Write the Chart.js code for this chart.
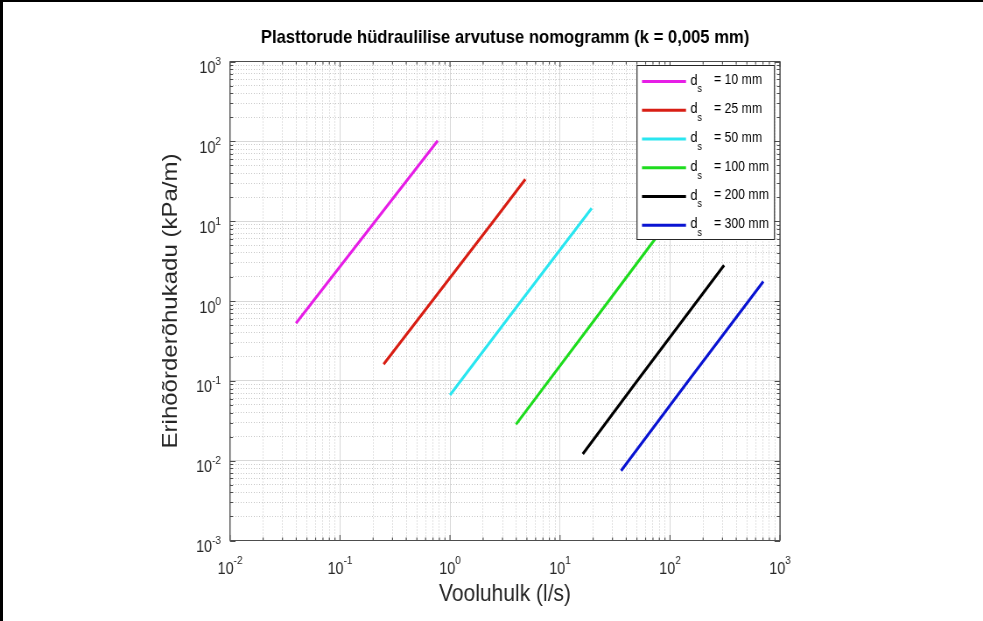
<!DOCTYPE html>
<html><head><meta charset="utf-8">
<script src="https://cdn.jsdelivr.net/npm/chart.js@4.4.1/dist/chart.umd.min.js"></script>
<style>
html,body{margin:0;padding:0;background:#fff;overflow:hidden;}
#clip{position:relative;width:983px;height:621px;overflow:hidden;background:#fff;}
#stage{position:absolute;left:0;top:0;width:1123px;height:621px;transform:scaleX(0.875334);transform-origin:0 0;}
#stage canvas{display:block;}
#frame{position:absolute;left:0;top:0;width:983px;height:621px;box-sizing:border-box;border-top:2px solid #000;border-left:3px solid #000;pointer-events:none;}
</style></head><body>
<div id="clip"><div id="stage"><canvas id="c" width="1123" height="621" style="width:1123px;height:621px"></canvas></div><div id="frame"></div></div>
<script>
// ---- data (flow in l/s, head loss in kPa/m) ----
const diameters = ['10 mm', '25 mm', '50 mm', '100 mm', '200 mm', '300 mm'];
const flowD10  = [0.0398, 0.209, 0.773];
const lossD10  = [0.525, 10, 102];
const flowD25  = [0.249, 2.48, 4.84];
const lossD25  = [0.161, 10, 33.4];
const flowD50  = [1.0, 4.43, 19.4];
const lossD50  = [0.0664, 1, 14.5];
const flowD100 = [3.98, 27.7, 78.5];
const lossD100 = [0.0285, 1, 6.8];
const flowD200 = [16.1, 50.4, 310];
const lossD200 = [0.0121, 0.1, 2.80];
const flowD300 = [35.9, 147, 705];
const lossD300 = [0.00748, 0.1, 1.75];

const xTickValues = [0.01, 0.1, 1, 10, 100, 1000];
const xTickExps   = ['-2', '-1', '0', '1', '2', '3'];
const yTickValues = [0.001, 0.01, 0.1, 1, 10, 100, 1000];
const yTickExps   = ['-3', '-2', '-1', '0', '1', '2', '3'];

const chartTitle = 'Plasttorude hüdraulilise arvutuse nomogramm (k = 0,005 mm)';
const xAxisTitle = 'Vooluhulk (l/s)';
const yAxisTitle = 'Erihõõrderõhukadu (kPa/m)';
const legendPrefixMain = 'd';
const legendPrefixSub = 's';

const lineColors = ['#e61ee6', '#d81e14', '#2ae6f0', '#1edc1e', '#000000', '#0a14d2'];

const flows = [flowD10, flowD25, flowD50, flowD100, flowD200, flowD300];
const losses = [lossD10, lossD25, lossD50, lossD100, lossD200, lossD300];

// ---- layout helpers ----
const FONT = '"Liberation Sans", Arial, Helvetica, sans-serif';
const SX = 983 / 1123;
const toC = v => v / SX;
const isMajor = v => Math.abs(Math.log10(v) - Math.round(Math.log10(v))) < 1e-6;
function decadeTicks(lo, hi) {
  const out = [];
  for (let e = lo; e < hi; e++) for (let m = 1; m < 10; m++) out.push(+(m * Math.pow(10, e)).toPrecision(6));
  out.push(Math.pow(10, hi));
  return out;
}
const gridColor = c => (c.tick && isMajor(c.tick.value)) ? '#d8d8d8' : '#c6c6c6';
const gridDash = c => (c.tick && isMajor(c.tick.value)) ? [] : [1, 2];

const datasets = diameters.map((d, i) => ({
  label: legendPrefixMain + legendPrefixSub + ' = ' + d,
  data: flows[i].map((q, j) => ({ x: q, y: losses[i][j] })),
  borderColor: lineColors[i],
  backgroundColor: lineColors[i],
  borderWidth: 3,
  pointRadius: 0,
  showLine: true,
  tension: 0,
  fill: false
}));

const TICK_BIG = 16.5, TICK_SMALL = 11.5;

const matlabLook = {
  id: 'matlabLook',
  afterDatasetsDraw(chart) {
    const { ctx, chartArea: a, scales: { x, y } } = chart;
    ctx.save();
    // inner tick marks
    ctx.strokeStyle = '#4d4d4d';
    ctx.lineWidth = 1 / SX;
    ctx.beginPath();
    x.ticks.forEach(t => {
      const px = x.getPixelForValue(t.value);
      const len = isMajor(t.value) ? 5.5 : 3;
      ctx.moveTo(px, a.bottom); ctx.lineTo(px, a.bottom - len);
      ctx.moveTo(px, a.top); ctx.lineTo(px, a.top + len);
    });
    ctx.stroke();
    ctx.lineWidth = 1;
    ctx.beginPath();
    y.ticks.forEach(t => {
      const py = Math.round(y.getPixelForValue(t.value)) + 0.5;
      const len = (isMajor(t.value) ? 5.5 : 3) / SX;
      ctx.moveTo(a.left, py); ctx.lineTo(a.left + len, py);
      ctx.moveTo(a.right, py); ctx.lineTo(a.right - len, py);
    });
    ctx.stroke();
    // frame
    ctx.lineWidth = 1.2;
    ctx.beginPath();
    ctx.moveTo(a.left, a.top); ctx.lineTo(a.right, a.top);
    ctx.moveTo(a.left, a.bottom); ctx.lineTo(a.right, a.bottom);
    ctx.stroke();
    ctx.lineWidth = 1.2 / SX;
    ctx.beginPath();
    ctx.moveTo(a.left, a.top); ctx.lineTo(a.left, a.bottom);
    ctx.moveTo(a.right, a.top); ctx.lineTo(a.right, a.bottom);
    ctx.stroke();

    // legend box
    const L = toC(637), R = toC(774.5), T = 65, B = 240;
    ctx.fillStyle = '#ffffff';
    ctx.fillRect(L, T, R - L, B - T);
    ctx.strokeStyle = '#262626';
    ctx.lineWidth = 1;
    ctx.beginPath(); ctx.moveTo(L, T + 0.5); ctx.lineTo(R, T + 0.5); ctx.moveTo(L, B - 0.5); ctx.lineTo(R, B - 0.5); ctx.stroke();
    ctx.lineWidth = 1 / SX;
    ctx.beginPath(); ctx.moveTo(L, T); ctx.lineTo(L, B); ctx.moveTo(R, T); ctx.lineTo(R, B); ctx.stroke();
    chart.data.datasets.forEach((ds, i) => {
      const ry = 81.5 + i * 28.75;
      ctx.strokeStyle = ds.borderColor;
      ctx.lineWidth = 3;
      ctx.beginPath(); ctx.moveTo(toC(642), ry); ctx.lineTo(toC(686), ry); ctx.stroke();
      ctx.fillStyle = '#000';
      ctx.textBaseline = 'middle';
      ctx.textAlign = 'left';
      ctx.font = '14.5px ' + FONT;
      ctx.fillText(legendPrefixMain, toC(690.5), ry - 1);
      ctx.font = '10.5px ' + FONT;
      ctx.fillText(legendPrefixSub, toC(697.5), ry + 8);
      ctx.font = '14px ' + FONT;
      ctx.fillText('= ' + diameters[i], toC(714), ry - 1);
    });
    ctx.restore();
  },
  afterDraw(chart) {
    const { ctx, scales: { x, y } } = chart;
    ctx.save();
    ctx.fillStyle = '#262626';
    ctx.textBaseline = 'alphabetic';
    ctx.textAlign = 'left';
    xTickValues.forEach((v, i) => {
      const px = x.getPixelForValue(v);
      ctx.font = TICK_BIG + 'px ' + FONT; const w1 = ctx.measureText('10').width;
      ctx.font = TICK_SMALL + 'px ' + FONT; const w2 = ctx.measureText(xTickExps[i]).width;
      const s = px - (w1 + w2) / 2;
      ctx.font = TICK_BIG + 'px ' + FONT; ctx.fillText('10', s, 574);
      ctx.font = TICK_SMALL + 'px ' + FONT; ctx.fillText(xTickExps[i], s + w1, 564);
    });
    const right = toC(221);
    yTickValues.forEach((v, i) => {
      const py = y.getPixelForValue(v);
      ctx.font = TICK_BIG + 'px ' + FONT; const w1 = ctx.measureText('10').width;
      ctx.font = TICK_SMALL + 'px ' + FONT; const w2 = ctx.measureText(yTickExps[i]).width;
      ctx.font = TICK_SMALL + 'px ' + FONT; ctx.fillText(yTickExps[i], right - w2, py + 3.5);
      ctx.font = TICK_BIG + 'px ' + FONT; ctx.fillText('10', right - w2 - w1, py + 11.5);
    });
    ctx.restore();
  }
};

new Chart(document.getElementById('c'), {
  type: 'scatter',
  data: { datasets },
  options: {
    responsive: false,
    animation: false,
    events: [],
    layout: { padding: { left: 31, right: 0, top: 0, bottom: 0 } },
    plugins: {
      legend: { display: false },
      tooltip: { enabled: false },
      title: {
        display: true, text: chartTitle, color: '#000',
        font: { family: FONT, size: 19, weight: 'bold' },
        padding: { top: 26, bottom: 12.7 }
      }
    },
    scales: {
      x: {
        type: 'logarithmic', position: 'bottom', min: 0.01, max: 1000,
        afterBuildTicks: s => { s.ticks = decadeTicks(-2, 3).map(v => ({ value: v, major: isMajor(v) })); },
        afterFit: s => { s.height = 80.5; },
        ticks: { display: false },
        grid: { drawTicks: false, color: gridColor, lineWidth: 1 },
        border: { display: false, dash: gridDash },
        title: { display: true, text: xAxisTitle, color: '#262626', font: { family: FONT, size: 24 }, padding: { top: 0, bottom: 12.6 } }
      },
      y: {
        type: 'logarithmic', position: 'left', min: 0.001, max: 1000,
        afterBuildTicks: s => { s.ticks = decadeTicks(-3, 3).map(v => ({ value: v, major: isMajor(v) })); },
        afterFit: s => { s.width = toC(230) - 31; },
        ticks: { display: false },
        grid: { drawTicks: false, color: gridColor, lineWidth: 1 },
        border: { display: false, dash: gridDash },
        title: { display: true, text: yAxisTitle, color: '#262626', font: { family: FONT, size: 24 }, padding: { top: 150, bottom: 0 } }
      },
      y2: {
        type: 'linear', position: 'right', display: true,
        afterFit: s => { s.width = 1123 - toC(780); },
        ticks: { display: false },
        grid: { display: false, drawTicks: false },
        border: { display: false }
      }
    }
  },
  plugins: [matlabLook]
});
</script>
</body></html>
